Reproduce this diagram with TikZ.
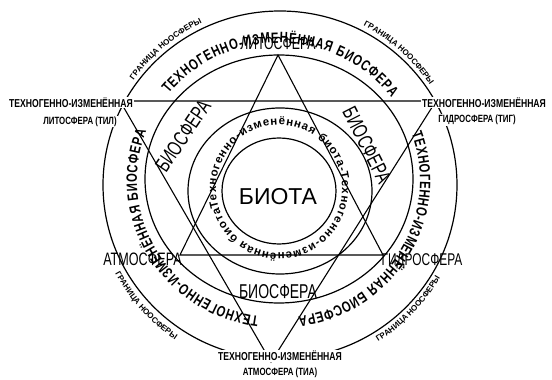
\documentclass[tikz,border=0pt]{standalone}
\usepackage{fontspec}
\setmainfont{Liberation Sans}
\newfontfamily\cond[FakeStretch=0.7]{Liberation Sans}
\newfontfamily\condbold[FakeStretch=0.75]{Liberation Sans Bold}
\newfontfamily\sansbold{Liberation Sans Bold}
\usetikzlibrary{decorations.text}
\begin{document}
\begin{tikzpicture}[x=1pt,y=1pt,
  ringline/.style={line width=1.2pt},
  starline/.style={line width=1.1pt},
  biglabel/.style={inner sep=0pt},
  corner/.style={font=\condbold\fontsize{11.5}{12}\selectfont, inner sep=1pt, fill=white},
  cornertwo/.style={font=\condbold\fontsize{10.5}{11}\selectfont, inner sep=1pt, fill=white},
]
\fill[white] (0,0) rectangle (552,380);
\useasboundingbox (0,0) rectangle (552,380);

% centres
\coordinate (c5) at (280,195);
\coordinate (c4) at (279,201);
\coordinate (c2) at (280,189);
\coordinate (c1) at (279,189);
\coordinate (cb) at (279,191);
\coordinate (cbd) at (278.5,199.5);

% rings
\draw[ringline] (c5) ellipse [x radius=177, y radius=174];
\draw[ringline] (c4) ellipse [x radius=134, y radius=124];
\draw[ringline] (c2) ellipse [x radius=92, y radius=83];
\draw[ringline] (c1) ellipse [x radius=57, y radius=53];

% star vertices
\coordinate (T) at (278,325);
\coordinate (A) at (180,125);
\coordinate (G) at (383,125);
\coordinate (L) at (120,279);
\coordinate (R) at (436,279);
\coordinate (B) at (271,18);

\draw[starline] (T) -- (A) -- (G) -- cycle;
\draw[starline] (L) -- (R) -- (B) -- cycle;

% ring text: biota
\path[decorate, decoration={text along path, text align=fit to path,
  text={|\sansbold\fontsize{11.5}{12}\selectfont|Техногенно-изменённая биота-Техногенно-изменённая биота }}]
  (cb) ++(197:63 and 64) arc[start angle=197, end angle=-163, x radius=63, y radius=64];

% ring text: technogenic biosphere (three copies)
\path[decorate, decoration={text along path, text align=fit to path,
  text={|\condbold\fontsize{15}{15}\selectfont|ТЕХНОГЕННО-ИЗМЕНЁННАЯ БИОСФЕРА}}]
  (cbd) ++(141:141.5 and 137.5) arc[start angle=141, end angle=37, x radius=141.5, y radius=137.5];
\path[decorate, decoration={text along path, text align=fit to path,
  text={|\condbold\fontsize{15}{15}\selectfont|ТЕХНОГЕННО-ИЗМЕНЁННАЯ БИОСФЕРА}}]
  (cbd) ++(20:141.5 and 137.5) arc[start angle=20, end angle=-82, x radius=141.5, y radius=137.5];
\path[decorate, decoration={text along path, text align=fit to path,
  text={|\condbold\fontsize{15}{15}\selectfont|ТЕХНОГЕННО-ИЗМЕНЁННАЯ БИОСФЕРА}}]
  (cbd) ++(-98:141.5 and 137.5) arc[start angle=-98, end angle=-201, x radius=141.5, y radius=137.5];

% noosphere border labels
\path[decorate, decoration={text along path, text align=center,
  text={|\sansbold\fontsize{8}{8}\selectfont|ГРАНИЦА НООСФЕРЫ}}]
  (c5) ++(150:180) arc[start angle=150, end angle=110, radius=180];
\path[decorate, decoration={text along path, text align=center,
  text={|\sansbold\fontsize{8}{8}\selectfont|ГРАНИЦА НООСФЕРЫ}}]
  (c5) ++(68:180) arc[start angle=68, end angle=28, radius=180];
\path[decorate, decoration={text along path, text align=center,
  text={|\sansbold\fontsize{8}{8}\selectfont|ГРАНИЦА НООСФЕРЫ}}]
  (c5) ++(202:187) arc[start angle=202, end angle=242, radius=187];
\path[decorate, decoration={text along path, text align=center,
  text={|\sansbold\fontsize{8}{8}\selectfont|ГРАНИЦА НООСФЕРЫ}}]
  (c5) ++(-64:185) arc[start angle=-64, end angle=-24, radius=185];

% main labels
\node[biglabel, font=\fontsize{23}{23}\selectfont] (biota) at (278,183.5) {БИОТА};
\node[biglabel, font=\cond\fontsize{17.5}{18}\selectfont] (lito) at (278,336.5) {ЛИТОСФЕРА};
\node[biglabel, font=\cond\fontsize{18}{18}\selectfont] (atmo) at (142.5,121) {АТМОСФЕРА};
\node[biglabel, font=\cond\fontsize{17}{18}\selectfont] (hydro) at (422,119) {ГИДРОСФЕРА};
\node[biglabel, font=\cond\fontsize{20}{20}\selectfont] (biob) at (278,88.5) {БИОСФЕРА};
\node[biglabel, font=\cond\fontsize{21}{21}\selectfont, rotate=56] (biol) at (183,244) {БИОСФЕРА};
\node[biglabel, font=\cond\fontsize{21}{21}\selectfont, rotate=-63] (bior) at (367,235) {БИОСФЕРА};

% corner labels
\node[corner] (tila) at (71,277.5) {ТЕХНОГЕННО-ИЗМЕНЁННАЯ};
\node[cornertwo] (tilb) at (80,258.5) {ЛИТОСФЕРА (ТИЛ)};
\node[corner] (tiga) at (484,277.5) {ТЕХНОГЕННО-ИЗМЕНЁННАЯ};
\node[cornertwo] (tigb) at (477,260) {ГИДРОСФЕРА (ТИГ)};
\node[corner] (tiaa) at (280,24) {ТЕХНОГЕННО-ИЗМЕНЁННАЯ};
\node[cornertwo] (tiab) at (280,7.5) {АТМОСФЕРА (ТИА)};
\end{tikzpicture}
\end{document}
